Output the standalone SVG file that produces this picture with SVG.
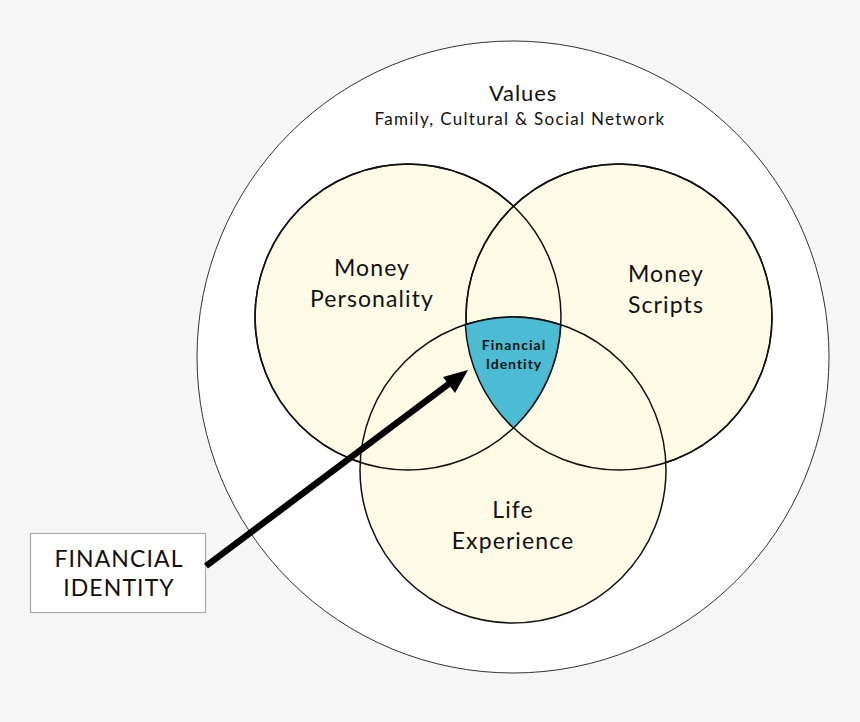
<svg xmlns="http://www.w3.org/2000/svg" width="860" height="722" viewBox="0 0 860 722">
<defs>
<style>
.bg{fill:#f6f6f6}
.outer{fill:#ffffff;stroke:#333;stroke-width:1}
.set{fill:#fdfbe6;stroke:#111;stroke-width:1.5}
.core{fill:#4bbcd3;stroke:#111;stroke-width:1.5}
.outline{fill:none;stroke:#111;stroke-width:1.5}
.t{font-family:Lato,"Open Sans","Liberation Sans",sans-serif;fill:#111;text-anchor:middle}
.lbl{font-size:23px;letter-spacing:1.1px}
.box{fill:#ffffff;stroke:#aaaaaa;stroke-width:1.2}
.conn{stroke:#000;stroke-width:6.5;fill:none}
.head{fill:#000}
</style>
</defs>
<rect class="bg" x="0" y="0" width="860" height="722"/>
<g id="values">
<circle class="outer" cx="513" cy="357" r="316"/>
<text class="t" x="523" y="101" font-size="22" letter-spacing="0.9">Values</text>
<text class="t" x="520" y="125" font-size="17" letter-spacing="1.3">Family, Cultural &amp; Social Network</text>
</g>
<g id="money-personality">
<circle class="set" cx="408" cy="317" r="153"/>
</g>
<g id="money-scripts">
<circle class="set" cx="619" cy="317" r="153"/>
</g>
<g id="life-experience">
<circle class="set" cx="513" cy="470" r="153"/>
</g>
<g id="outlines">
<circle class="outline" cx="408" cy="317" r="153"/>
<circle class="outline" cx="619" cy="317" r="153"/>
</g>
<g id="financial-identity-core">
<path class="core" d="M465.3,324.7 A153,153 0 0 1 560.7,324.7 A153,153 0 0 1 513.5,428 A153,153 0 0 1 465.3,324.7 Z"/>
<text class="t" x="514" y="350" font-size="14" font-weight="bold" letter-spacing="1">Financial</text>
<text class="t" x="514" y="369" font-size="14" font-weight="bold" letter-spacing="1">Identity</text>
</g>
<g id="labels">
<text class="t lbl" x="372" y="276">Money</text>
<text class="t lbl" x="372" y="307">Personality</text>
<text class="t lbl" x="666" y="282">Money</text>
<text class="t lbl" x="666" y="313">Scripts</text>
<text class="t lbl" x="513" y="518">Life</text>
<text class="t lbl" x="513" y="549" letter-spacing="1.5">Experience</text>
</g>
<g id="financial-identity-box">
<rect class="box" x="30.5" y="533.5" width="175" height="79"/>
<text class="t lbl" x="119" y="567" letter-spacing="2.2">FINANCIAL</text>
<text class="t lbl" x="119" y="596" letter-spacing="2">IDENTITY</text>
</g>
<g id="connectors">
<line class="conn" x1="206" y1="566" x2="450" y2="383"/>
<polygon class="head" points="468,370 443,377 455,393"/>
</g>
</svg>
